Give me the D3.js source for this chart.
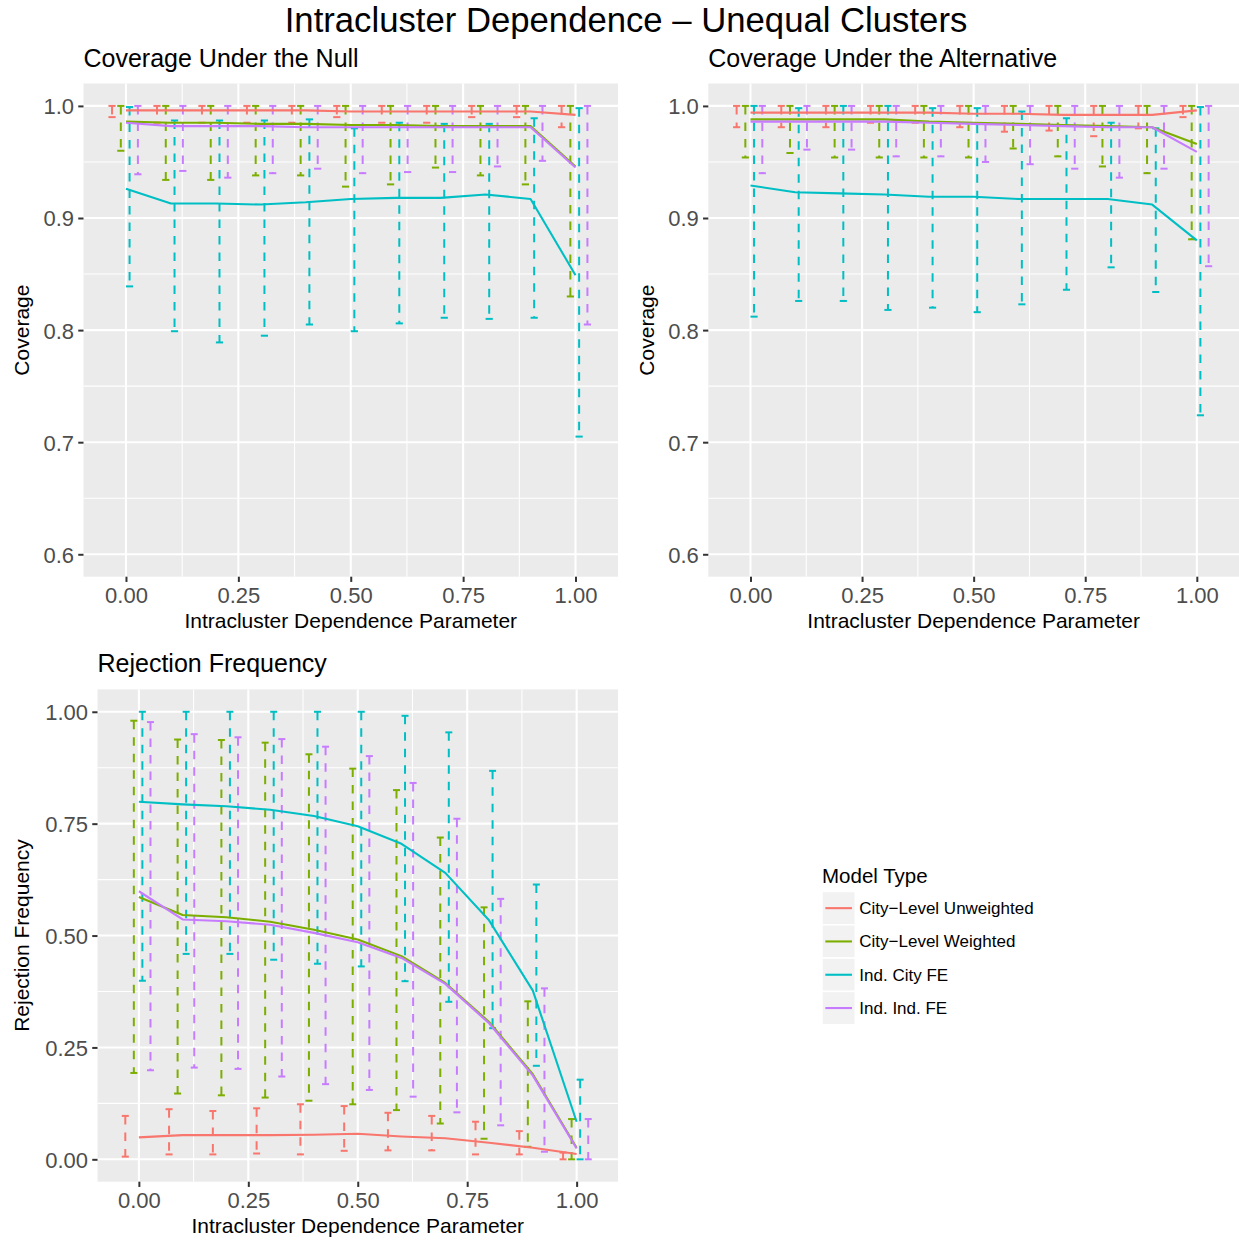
<!DOCTYPE html>
<html><head><meta charset="utf-8">
<script src="https://cdn.jsdelivr.net/npm/d3@7"></script>
<style>
body{margin:0;background:#fff;}
text{font-family:"Liberation Sans",Arial,Helvetica,sans-serif;}
</style></head><body>
<svg id="chart" width="1239" height="1242"></svg>
<script>
// ---------- data ----------
const rho = [0,0.1,0.2,0.3,0.4,0.5,0.6,0.7,0.8,0.9,1.0];
const modelTypes = ["City\u2212Level Unweighted","City\u2212Level Weighted","Ind. City FE","Ind. Ind. FE"];
const modelColors = ["#F8766D","#7CAE00","#00BFC4","#C77CFF"];
const xTicks = [0,0.25,0.5,0.75,1];
const coverageTicks = [0.6,0.7,0.8,0.9,1.0];
const rejectionTicks = [0,0.25,0.5,0.75,1];

// Coverage under the null
const nullUnwMean = [0.996,0.996,0.996,0.996,0.996,0.995,0.995,0.995,0.995,0.995,0.992];
const nullUnwLo   = [0.990,0.985,0.985,0.985,0.985,0.990,0.985,0.985,0.990,0.990,0.981];
const nullUnwHi   = [1,1,1,1,1,1,1,1,1,1,1];
const nullWtdMean = [0.986,0.985,0.985,0.984,0.984,0.983,0.983,0.982,0.982,0.982,0.946];
const nullWtdLo   = [0.960,0.934,0.934,0.938,0.938,0.928,0.930,0.945,0.938,0.930,0.830];
const nullWtdHi   = [1,1,1,1,1,1,1,1,1,1,1];
const nullCityMean= [0.926,0.913,0.913,0.912,0.914,0.917,0.918,0.918,0.921,0.917,0.849];
const nullCityLo  = [0.839,0.799,0.789,0.795,0.805,0.799,0.806,0.811,0.810,0.811,0.705];
const nullCityHi  = [0.999,0.987,0.987,0.987,0.988,0.980,0.985,0.984,0.984,0.989,0.998];
const nullIndMean = [0.985,0.982,0.982,0.982,0.981,0.981,0.981,0.981,0.981,0.981,0.945];
const nullIndLo   = [0.939,0.942,0.936,0.940,0.944,0.940,0.941,0.941,0.946,0.951,0.805];
const nullIndHi   = [1,1,1,1,1,1,1,1,1,1,1];

// Coverage under the alternative
const altUnwMean  = [0.994,0.994,0.994,0.994,0.994,0.993,0.993,0.992,0.992,0.992,0.996];
const altUnwLo    = [0.981,0.981,0.981,0.985,0.985,0.981,0.977,0.978,0.973,0.980,0.990];
const altUnwHi    = [1,1,1,1,1,1,1,1,1,1,1];
const altWtdMean  = [0.988,0.988,0.988,0.988,0.986,0.985,0.984,0.983,0.982,0.981,0.966];
const altWtdLo    = [0.954,0.958,0.954,0.954,0.954,0.954,0.962,0.955,0.946,0.940,0.881];
const altWtdHi    = [1,1,1,1,1,1,1,1,1,1,1];
const altCityMean = [0.929,0.923,0.922,0.921,0.919,0.919,0.917,0.917,0.917,0.912,0.880];
const altCityLo   = [0.812,0.826,0.826,0.818,0.820,0.816,0.823,0.836,0.856,0.834,0.724];
const altCityHi   = [1.0,0.998,1.0,1.0,0.998,0.998,0.995,0.989,0.985,0.980,0.999];
const altIndMean  = [0.986,0.986,0.986,0.986,0.985,0.984,0.983,0.982,0.981,0.981,0.959];
const altIndLo    = [0.940,0.961,0.961,0.955,0.955,0.950,0.948,0.944,0.936,0.944,0.857];
const altIndHi    = [1,1,1,1,1,1,1,1,1,1,1];

// Rejection frequency
const rejUnwMean  = [0.049,0.054,0.054,0.054,0.055,0.057,0.051,0.047,0.037,0.026,0.012];
const rejUnwLo    = [0.006,0.011,0.011,0.013,0.011,0.019,0.020,0.020,0.011,0.011,0.000];
const rejUnwHi    = [0.097,0.112,0.108,0.114,0.123,0.119,0.104,0.097,0.084,0.063,0.015];
const rejWtdMean  = [0.586,0.546,0.541,0.531,0.513,0.491,0.454,0.394,0.307,0.190,0.026];
const rejWtdLo    = [0.193,0.147,0.143,0.138,0.131,0.123,0.110,0.080,0.046,0.028,0.000];
const rejWtdHi    = [0.980,0.938,0.937,0.931,0.905,0.873,0.825,0.719,0.563,0.353,0.090];
const rejCityMean = [0.799,0.793,0.789,0.781,0.767,0.744,0.705,0.640,0.534,0.377,0.084];
const rejCityLo   = [0.399,0.459,0.459,0.446,0.437,0.431,0.398,0.352,0.293,0.209,0.000];
const rejCityHi   = [1.0,1.0,1.0,1.0,1.0,1.0,0.991,0.954,0.868,0.614,0.178];
const rejIndMean  = [0.599,0.536,0.532,0.524,0.506,0.485,0.450,0.392,0.304,0.187,0.024];
const rejIndLo    = [0.199,0.205,0.202,0.185,0.168,0.155,0.140,0.105,0.076,0.017,0.000];
const rejIndHi    = [0.977,0.950,0.943,0.939,0.922,0.901,0.841,0.761,0.582,0.382,0.090];

// ---------- drawing ----------
const svg = d3.select("#chart");
const dodge = [-0.031,-0.0115,0.008,0.0265];
const capHalf = 0.008;
const xDomain = [-0.0945, 1.0945];

function buildSeries(means, los, his){
  return modelTypes.map((m,i)=>({
    name:m, color:modelColors[i], off:dodge[i],
    pts: rho.map((r,k)=>({x:r, mean:means[i][k], lo:los[i][k], hi:his[i][k]}))
  }));
}

function drawPanel(cfg){
  const g = svg.append("g");
  const x = d3.scaleLinear().domain(xDomain).range([cfg.x0,cfg.x1]);
  const y = d3.scaleLinear().domain(cfg.ydom).range([cfg.y1,cfg.y0]);
  g.append("rect").attr("x",cfg.x0).attr("y",cfg.y0)
    .attr("width",cfg.x1-cfg.x0).attr("height",cfg.y1-cfg.y0).attr("fill","#EBEBEB");
  const xMinor = d3.pairs(xTicks).map(p=>(p[0]+p[1])/2);
  const yMinor = d3.pairs(cfg.yticks).map(p=>(p[0]+p[1])/2);
  g.selectAll(".xmin").data(xMinor).join("line")
    .attr("x1",d=>x(d)).attr("x2",d=>x(d)).attr("y1",cfg.y0).attr("y2",cfg.y1)
    .attr("stroke","#fff").attr("stroke-width",1.05);
  g.selectAll(".ymin").data(yMinor).join("line")
    .attr("y1",d=>y(d)).attr("y2",d=>y(d)).attr("x1",cfg.x0).attr("x2",cfg.x1)
    .attr("stroke","#fff").attr("stroke-width",1.05);
  g.selectAll(".xmaj").data(xTicks).join("line")
    .attr("x1",d=>x(d)).attr("x2",d=>x(d)).attr("y1",cfg.y0).attr("y2",cfg.y1)
    .attr("stroke","#fff").attr("stroke-width",2.1);
  g.selectAll(".ymaj").data(cfg.yticks).join("line")
    .attr("y1",d=>y(d)).attr("y2",d=>y(d)).attr("x1",cfg.x0).attr("x2",cfg.x1)
    .attr("stroke","#fff").attr("stroke-width",2.1);

  const series = cfg.series;
  // error bars
  series.forEach(s=>{
    const eg = g.append("g").attr("stroke",s.color).attr("stroke-width",2)
      .attr("stroke-dasharray","8.5,8").attr("fill","none");
    s.pts.forEach(p=>{
      const xc = p.x + s.off;
      eg.append("line").attr("x1",x(xc-capHalf)).attr("x2",x(xc+capHalf)).attr("y1",y(p.hi)).attr("y2",y(p.hi));
      eg.append("line").attr("x1",x(xc)).attr("x2",x(xc)).attr("y1",y(p.hi)).attr("y2",y(p.lo));
      eg.append("line").attr("x1",x(xc-capHalf)).attr("x2",x(xc+capHalf)).attr("y1",y(p.lo)).attr("y2",y(p.lo));
    });
  });
  // lines
  const line = d3.line().x(d=>x(d.x)).y(d=>y(d.mean));
  series.forEach(s=>{
    g.append("path").datum(s.pts).attr("d",line).attr("fill","none")
      .attr("stroke",s.color).attr("stroke-width",2.1).attr("stroke-linejoin","round");
  });

  // axes
  const ax = g.append("g").attr("transform",`translate(0,${cfg.y1})`)
    .call(d3.axisBottom(x).tickValues(xTicks).tickFormat(d3.format(".2f")).tickSize(5.25).tickPadding(5.5));
  const ay = g.append("g").attr("transform",`translate(${cfg.x0},0)`)
    .call(d3.axisLeft(y).tickValues(cfg.yticks).tickFormat(d3.format(cfg.yfmt)).tickSize(5.25).tickPadding(4.2));
  [ax,ay].forEach(a=>{
    a.select(".domain").remove();
    a.selectAll(".tick line").attr("stroke","#333333").attr("stroke-width",2);
    a.selectAll(".tick text").attr("fill","#4D4D4D").style("font-size","22px")
      .style("font-family","'Liberation Sans',Arial,sans-serif");
  });
  ay.selectAll(".tick text").attr("dy","0.36em");
  // titles
  g.append("text").attr("x",(cfg.x0+cfg.x1)/2).attr("y",cfg.y1+51)
    .attr("text-anchor","middle").style("font-size","21px").attr("fill","#000")
    .text("Intracluster Dependence Parameter");
  g.append("text").attr("transform",`translate(${cfg.ytitleX},${(cfg.y0+cfg.y1)/2}) rotate(-90)`)
    .attr("text-anchor","middle").style("font-size","21px").attr("fill","#000")
    .text(cfg.ytitle);
  g.append("text").attr("x",cfg.x0).attr("y",cfg.y0-17)
    .style("font-size","25px").attr("fill","#000").text(cfg.title);
}

drawPanel({
  x0:83.5, x1:618, y0:83.5, y1:576.7, ydom:[0.58,1.02], yticks:coverageTicks, yfmt:".1f",
  ytitle:"Coverage", ytitleX:29, title:"Coverage Under the Null",
  series: buildSeries([nullUnwMean,nullWtdMean,nullCityMean,nullIndMean],
                      [nullUnwLo,nullWtdLo,nullCityLo,nullIndLo],
                      [nullUnwHi,nullWtdHi,nullCityHi,nullIndHi])
});
drawPanel({
  x0:708.3, x1:1239, y0:83.5, y1:576.7, ydom:[0.58,1.02], yticks:coverageTicks, yfmt:".1f",
  ytitle:"Coverage", ytitleX:653.5, title:"Coverage Under the Alternative",
  series: buildSeries([altUnwMean,altWtdMean,altCityMean,altIndMean],
                      [altUnwLo,altWtdLo,altCityLo,altIndLo],
                      [altUnwHi,altWtdHi,altCityHi,altIndHi])
});
drawPanel({
  x0:97.5, x1:618, y0:689.4, y1:1181.7, ydom:[-0.05,1.05], yticks:rejectionTicks, yfmt:".2f",
  ytitle:"Rejection Frequency", ytitleX:29, title:"Rejection Frequency",
  series: buildSeries([rejUnwMean,rejWtdMean,rejCityMean,rejIndMean],
                      [rejUnwLo,rejWtdLo,rejCityLo,rejIndLo],
                      [rejUnwHi,rejWtdHi,rejCityHi,rejIndHi])
});

// main title
svg.append("text").attr("x",626).attr("y",32).attr("text-anchor","middle")
  .style("font-size","34.7px").attr("fill","#000")
  .text("Intracluster Dependence \u2013 Unequal Clusters");

// legend
const lg = svg.append("g").attr("transform","translate(822,0)");
lg.append("text").attr("x",0).attr("y",882.7).style("font-size","20.5px").attr("fill","#000").text("Model Type");
const keyPitch = 33.3, keyTop = 891.5, keySize = 33.3;
modelTypes.forEach((m,i)=>{
  const ky = keyTop + i*keyPitch;
  lg.append("rect").attr("x",0).attr("y",ky).attr("width",keySize).attr("height",keySize)
    .attr("fill","#F2F2F2").attr("stroke","#fff").attr("stroke-width",1.5);
  lg.append("line").attr("x1",keySize*0.1).attr("x2",keySize*0.9)
    .attr("y1",ky+keySize/2).attr("y2",ky+keySize/2)
    .attr("stroke",modelColors[i]).attr("stroke-width",2.1);
  lg.append("text").attr("x",keySize+4).attr("y",ky+keySize/2+6)
    .style("font-size","17px").attr("fill","#000").text(m);
});
</script>
</body></html>
